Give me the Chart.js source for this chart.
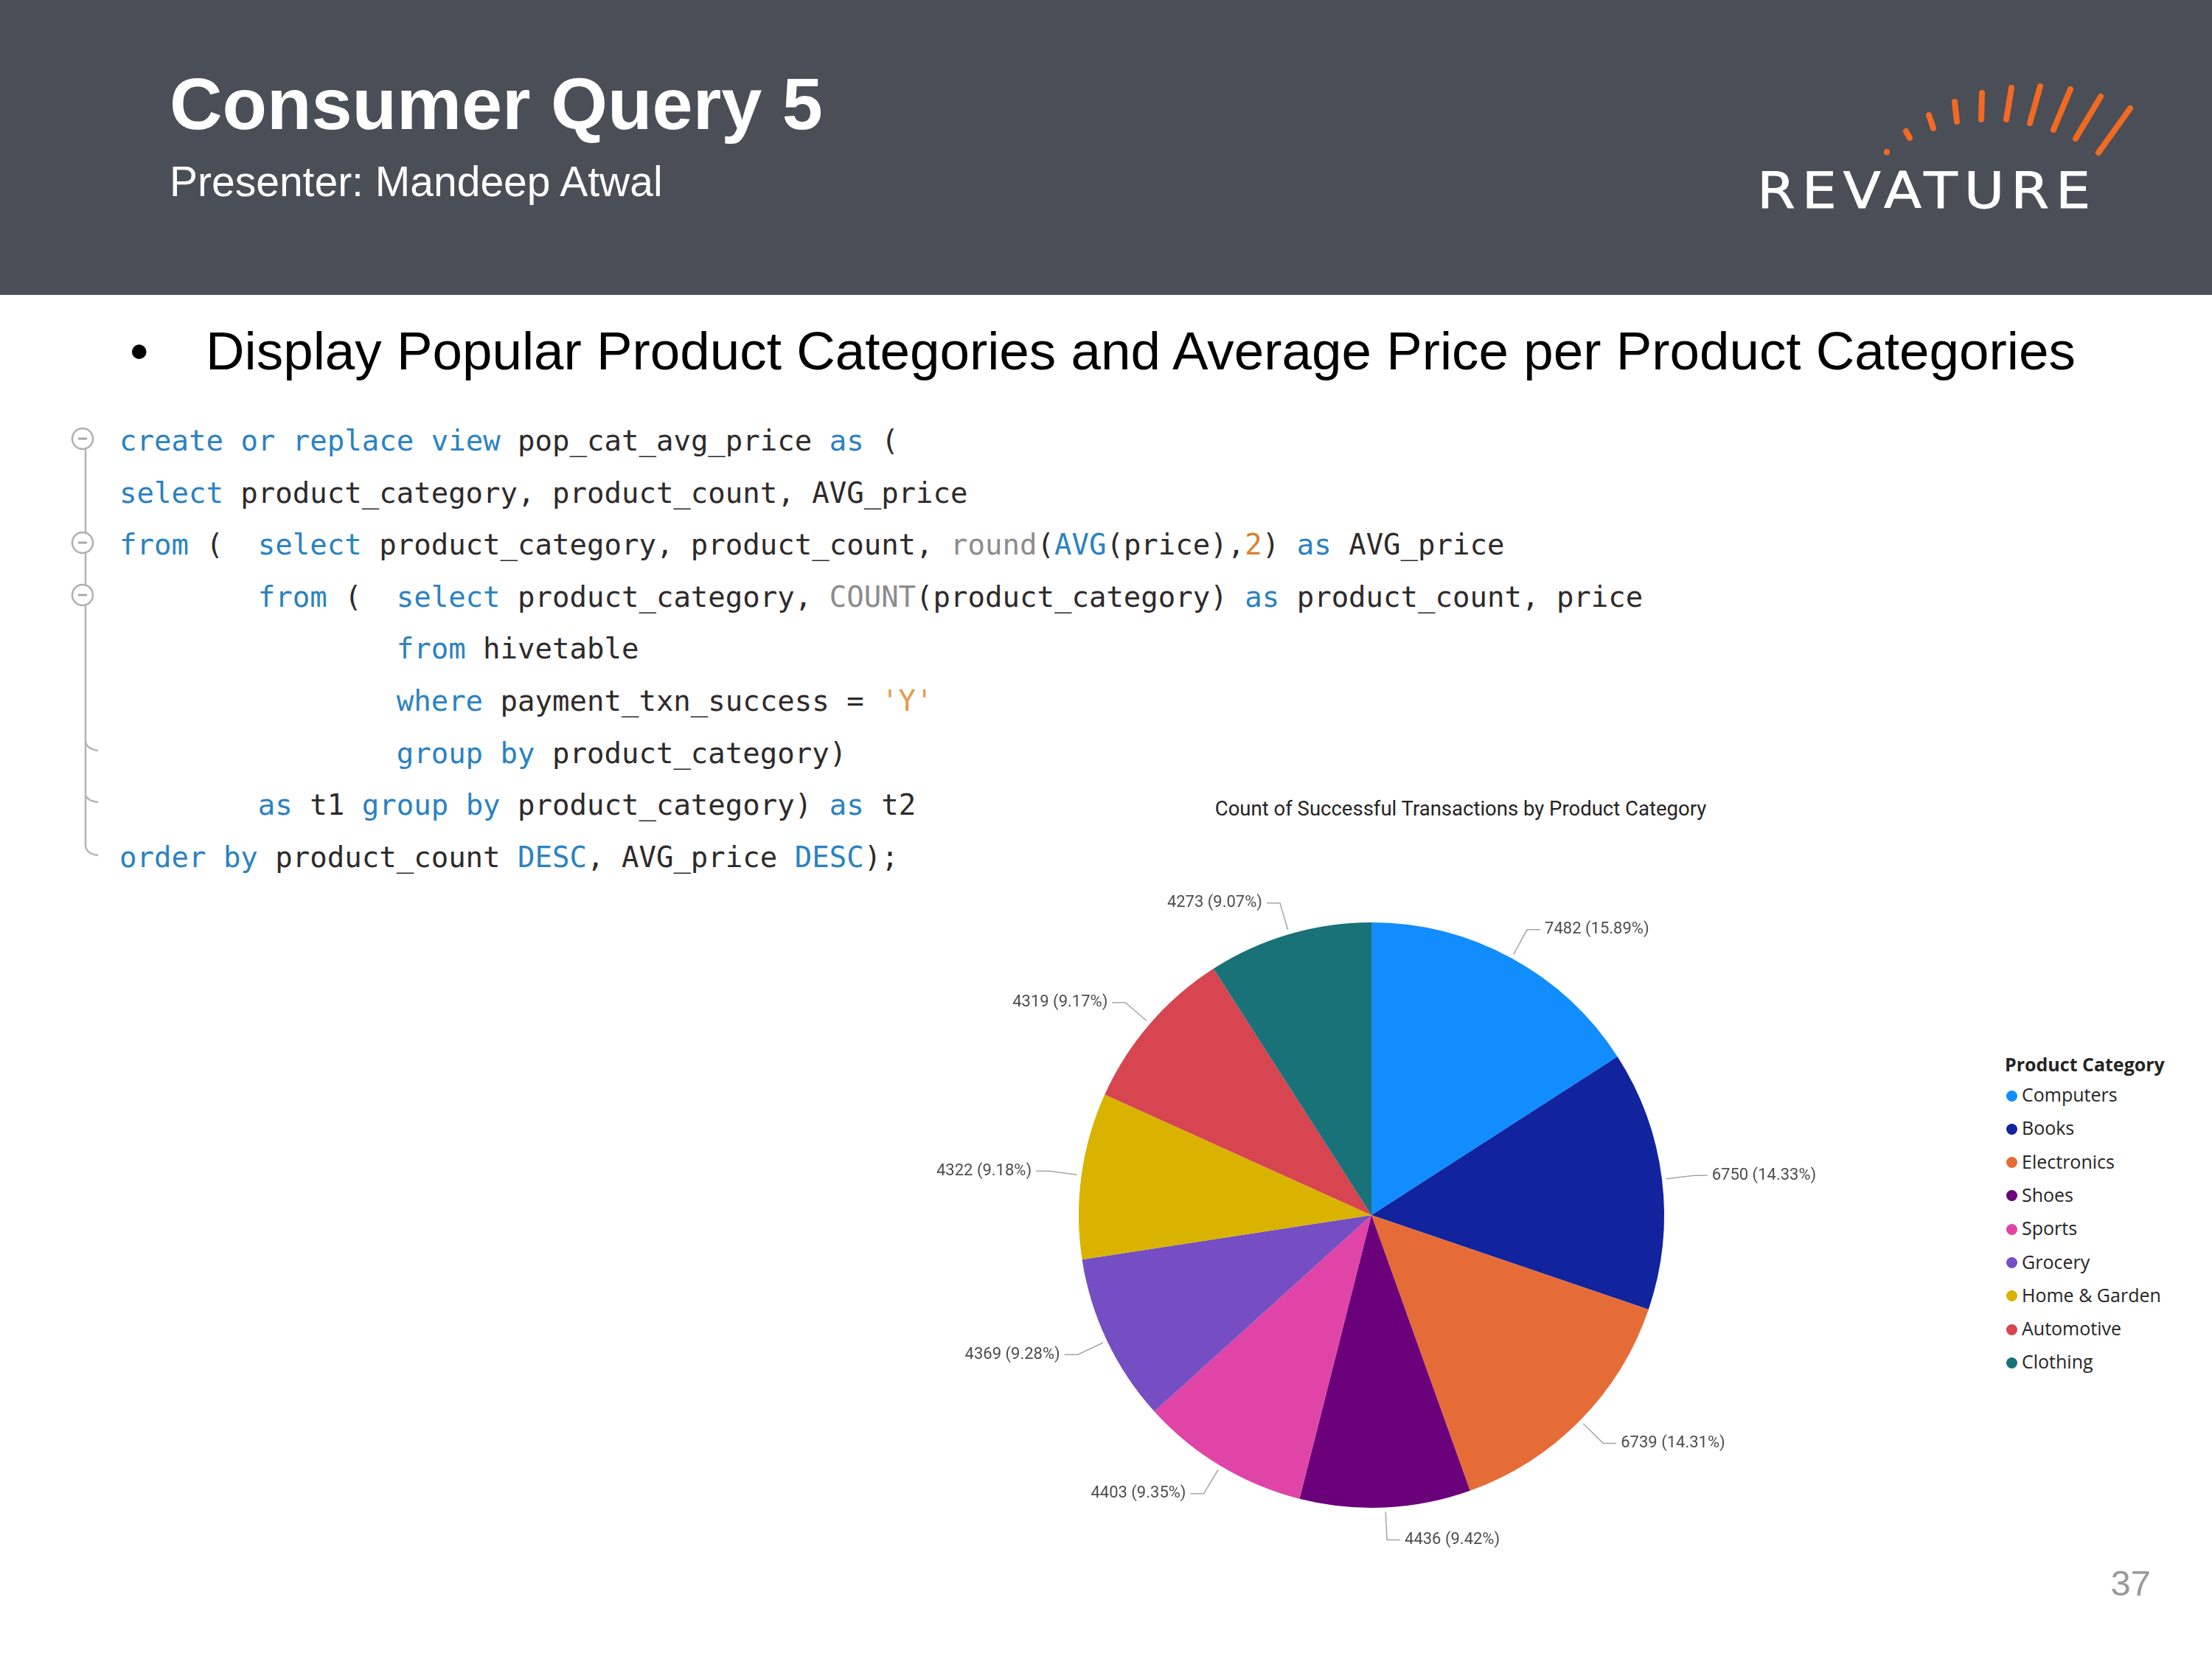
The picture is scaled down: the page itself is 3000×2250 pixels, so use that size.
<!DOCTYPE html>
<html><head><meta charset="utf-8">
<script src="https://cdn.jsdelivr.net/npm/chart.js@4.4.1/dist/chart.umd.min.js"></script>
<style>
html,body{margin:0;padding:0;background:#fff;}
body{width:3000px;height:2250px;position:relative;overflow:hidden;font-family:"Liberation Sans",Arial,sans-serif;}
.abs{position:absolute;white-space:pre;}
#header{position:absolute;left:0;top:0;width:3000px;height:400px;background:#4a4e57;}
#title{left:230px;top:91px;font-size:99px;line-height:99px;font-weight:bold;color:#fff;}
#subtitle{left:230px;top:218px;font-size:57px;line-height:57px;color:#fff;}
#bullet{left:176px;top:439px;font-size:72.8px;line-height:73px;color:#000;}
#bullettext{left:279px;top:439px;font-size:72.8px;line-height:73px;color:#000;}
#code{left:162px;top:563px;font-family:"DejaVu Sans Mono",monospace;font-size:39px;letter-spacing:0px;line-height:70.6px;color:#2e2a2a;}
.kw{color:#2a82c2;}
.fn{color:#8c8c8c;}
.num{color:#d9822b;}
.str{color:#e39a4a;}
#chartTitle{left:1481px;width:1000px;text-align:center;top:1083px;font-family:Roboto,sans-serif;font-size:27.5px;line-height:27px;color:#252423;}
#chartBox{position:absolute;left:1200px;top:1150px;width:1400px;height:1000px;}
#legend{position:absolute;left:2712px;top:1431px;font-family:"Open Sans",sans-serif;color:#252423;}
#legendTitle{position:absolute;left:7px;top:0;font-weight:bold;font-size:25px;line-height:25px;white-space:pre;}
.li{position:absolute;left:0;white-space:pre;font-size:25px;line-height:25px;}
.dot{position:absolute;left:8.5px;top:6.5px;width:15px;height:15px;border-radius:50%;}
.lt{position:absolute;left:30px;top:0;}
#page{right:83px;top:2123px;font-size:49px;line-height:49px;color:#9a9a9a;}
</style>
</head><body>
<div id="header"></div>
<div class="abs" id="title">Consumer Query 5</div>
<div class="abs" id="subtitle">Presenter: Mandeep Atwal</div>
<svg style="position:absolute;left:0;top:0" width="3000" height="400">
  <g stroke="#f26a21" stroke-width="8" stroke-linecap="round" fill="none">
    <line x1="2559" y1="206" x2="2559" y2="206.5"/>
    <line x1="2585" y1="178" x2="2590" y2="187"/>
    <line x1="2616" y1="156" x2="2622" y2="174"/>
    <line x1="2651" y1="138" x2="2654" y2="165"/>
    <line x1="2688" y1="126" x2="2687" y2="162"/>
    <line x1="2728" y1="119" x2="2721" y2="162"/>
    <line x1="2767" y1="117" x2="2753" y2="167"/>
    <line x1="2808" y1="121" x2="2785" y2="176"/>
    <line x1="2849" y1="131" x2="2815" y2="188"/>
    <line x1="2889" y1="147" x2="2846" y2="207"/>
  </g>
  <text x="2383" y="282" font-family="'DejaVu Sans', sans-serif" font-size="67" letter-spacing="8" fill="#fff" stroke="#fff" stroke-width="0.8" textLength="461" lengthAdjust="spacingAndGlyphs">REVATURE</text>
</svg>
<div class="abs" id="bullet">•</div>
<div class="abs" id="bullettext">Display Popular Product Categories and Average Price per Product Categories</div>

<svg style="position:absolute;left:0;top:0" width="300" height="1250">
  <g stroke="#b4b4b4" stroke-width="2.5" fill="none">
    <line x1="116" y1="605" x2="116" y2="1147"/>
    <path d="M116 1147 Q117 1158 133 1160"/>
    <path d="M116 1006 Q118 1016 133 1018"/>
    <path d="M116 1078 Q118 1086 133 1088"/>
  </g>
  <g stroke="#b0b0b0" stroke-width="2.5" fill="#fff">
    <circle cx="112" cy="595" r="14"/>
    <circle cx="112" cy="736" r="14"/>
    <circle cx="112" cy="807" r="14"/>
  </g>
  <g stroke="#a8a8a8" stroke-width="3">
    <line x1="106" y1="595" x2="118" y2="595"/>
    <line x1="106" y1="736" x2="118" y2="736"/>
    <line x1="106" y1="807" x2="118" y2="807"/>
  </g>
</svg>
<div class="abs" id="code"><span class="kw">create</span> <span class="kw">or</span> <span class="kw">replace</span> <span class="kw">view</span> pop_cat_avg_price <span class="kw">as</span> (
<span class="kw">select</span> product_category, product_count, AVG_price
<span class="kw">from</span> (  <span class="kw">select</span> product_category, product_count, <span class="fn">round</span>(<span class="kw">AVG</span>(price),<span class="num">2</span>) <span class="kw">as</span> AVG_price
        <span class="kw">from</span> (  <span class="kw">select</span> product_category, <span class="fn">COUNT</span>(product_category) <span class="kw">as</span> product_count, price
                <span class="kw">from</span> hivetable
                <span class="kw">where</span> payment_txn_success = <span class="str">'Y'</span>
                <span class="kw">group</span> <span class="kw">by</span> product_category)
        <span class="kw">as</span> t1 <span class="kw">group</span> <span class="kw">by</span> product_category) <span class="kw">as</span> t2
<span class="kw">order</span> <span class="kw">by</span> product_count <span class="kw">DESC</span>, AVG_price <span class="kw">DESC</span>);</div>

<div class="abs" id="chartTitle">Count of Successful Transactions by Product Category</div>
<div id="chartBox"><canvas id="c" width="1400" height="1000"></canvas></div>
<div id="legend"></div>
<div class="abs" id="page">37</div>

<script>
const categories = ["Computers","Books","Electronics","Shoes","Sports","Grocery","Home & Garden","Automotive","Clothing"];
const counts = [7482, 6750, 6739, 4436, 4403, 4369, 4322, 4319, 4273];
const colors = ["#118DFF","#12239E","#E66C37","#6B007B","#E044A7","#744EC2","#D9B300","#D64550","#197278"];
const legendTitle = "Product Category";

// legend
const lg = document.getElementById('legend');
const lt = document.createElement('div'); lt.id = 'legendTitle'; lt.textContent = legendTitle; lg.appendChild(lt);
categories.forEach((c, i) => {
  const row = document.createElement('div'); row.className = 'li';
  row.style.top = (41 + i * 45.3) + 'px';
  const d = document.createElement('div'); d.className = 'dot'; d.style.background = colors[i];
  const t = document.createElement('div'); t.className = 'lt'; t.textContent = c;
  row.appendChild(d); row.appendChild(t); lg.appendChild(row);
});

const outsideLabels = {
  id: 'outsideLabels',
  afterDatasetsDraw(chart) {
    const ctx = chart.ctx;
    const meta = chart.getDatasetMeta(0);
    const data = chart.data.datasets[0].data;
    const total = data.reduce((a, b) => a + b, 0);
    ctx.save();
    ctx.font = '22px Roboto';
    ctx.textBaseline = 'middle';
    meta.data.forEach((arc, i) => {
      const p = arc.getProps(['x','y','startAngle','endAngle','outerRadius'], true);
      const mid = (p.startAngle + p.endAngle) / 2;
      const cx = Math.cos(mid), cy = Math.sin(mid);
      const x0 = p.x + cx * (p.outerRadius + 6), y0 = p.y + cy * (p.outerRadius + 6);
      const x1 = p.x + cx * (p.outerRadius + 44), y1 = p.y + cy * (p.outerRadius + 44);
      const side = cx >= 0 ? 1 : -1;
      const x2 = x1 + side * 18;
      ctx.strokeStyle = '#a6a6a6';
      ctx.lineWidth = 1.5;
      ctx.beginPath(); ctx.moveTo(x0, y0); ctx.lineTo(x1, y1); ctx.lineTo(x2, y1); ctx.stroke();
      ctx.fillStyle = '#4d4d4d';
      ctx.textAlign = side > 0 ? 'left' : 'right';
      ctx.fillText(data[i] + ' (' + (data[i] / total * 100).toFixed(2) + '%)', x2 + side * 6, y1);
    });
    ctx.restore();
  }
};

new Chart(document.getElementById('c'), {
  type: 'pie',
  data: {
    labels: categories,
    datasets: [{ data: counts, backgroundColor: colors, borderWidth: 0 }]
  },
  options: {
    responsive: false,
    devicePixelRatio: 1,
    animation: false,
    radius: 397,
    layout: { padding: { left: 0, right: 80, top: 0, bottom: 4 } },
    plugins: { legend: { display: false }, title: { display: false }, tooltip: { enabled: false } },
    events: []
  },
  plugins: [outsideLabels]
});
</script>
</body></html>
